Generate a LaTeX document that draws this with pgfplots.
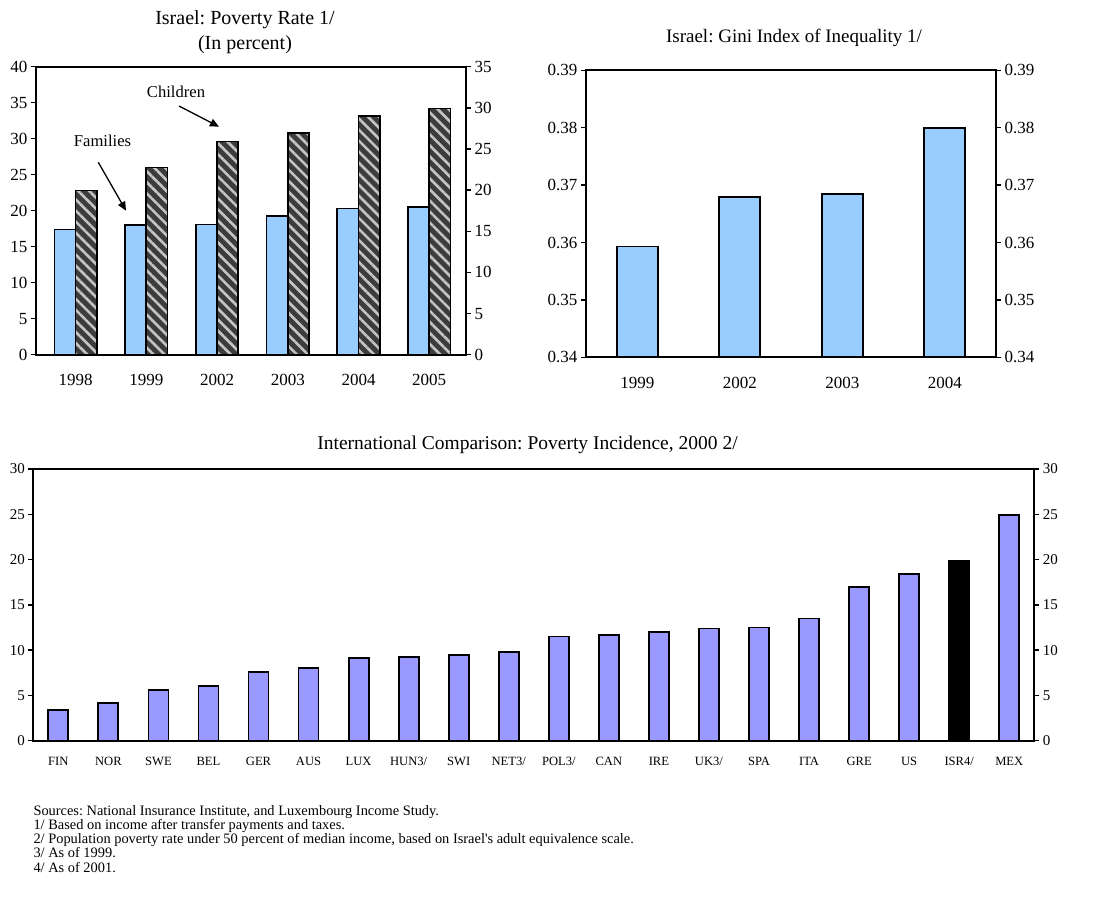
\documentclass[border=0pt]{standalone}
\usepackage{fontspec}
\setmainfont{Liberation Serif}
\usepackage{pgfplots}
\pgfplotsset{compat=1.18}
\usetikzlibrary{patterns.meta,arrows.meta}
\frenchspacing

\definecolor{famblue}{HTML}{99CCFF}
\definecolor{intlblue}{HTML}{9999FF}
\definecolor{stripebg}{HTML}{3C3C3C}
\definecolor{stripefg}{HTML}{C4C4C4}

\pgfplotsset{
  panel/.style={
    scale only axis,
    anchor=north west,
    axis line style={line width=2pt},
    tick style={line width=1.5pt, black},
    tick align=outside,
    major tick length=5pt,
    /pgf/number format/assume math mode=true,
    major x tick style={draw=none},
    xtick pos=bottom,
  },
  rightaxis/.style={
    panel,
    axis x line=none,
    axis y line*=right,
  },
}

\begin{document}
\begin{tikzpicture}
\useasboundingbox (0pt,0pt) rectangle (1107pt,-896pt);

% ---------------- Poverty rate: families and children ----------------
\begin{axis}[panel,
  at={(36pt,-66.7pt)}, width=430pt, height=288pt,
  xmin=-0.56, xmax=5.52, ymin=0, ymax=40,
  ytick={0,5,...,40}, ytick pos=left,
  xtick={0,...,5},
  xticklabels={1998,1999,2002,2003,2004,2005},
  ticklabel style={font=\fontsize{17}{20}\selectfont},
  xticklabel style={yshift=-11pt},
]
\addplot[ybar, bar width=0.3, bar shift=-0.15, fill=famblue, draw=black, line width=1.7pt]
  coordinates {(0,17.4) (1,18.0) (2,18.1) (3,19.3) (4,20.3) (5,20.5)};
% children: dark base, then light diagonal hatching on top
\addplot[ybar, bar width=0.3, bar shift=0.15, draw=none, fill=stripebg]
  coordinates {(0,22.8) (1,26.0) (2,29.6) (3,30.8) (4,33.2) (5,34.2)};
\addplot[ybar, bar width=0.3, bar shift=0.15, draw=black, line width=1.7pt,
  pattern={Lines[angle=-45,distance=7.8pt,line width=2.6pt]}, pattern color=stripefg]
  coordinates {(0,22.8) (1,26.0) (2,29.6) (3,30.8) (4,33.2) (5,34.2)};
\end{axis}
\begin{axis}[rightaxis,
  at={(36pt,-66.7pt)}, width=430pt, height=288pt,
  xmin=-0.56, xmax=5.52, ymin=0, ymax=35,
  ytick={0,5,...,35},
  ticklabel style={font=\fontsize{17}{20}\selectfont},
]
\end{axis}

\node[font=\fontsize{20}{22}\selectfont] at (245pt,-20pt) {Israel: Poverty Rate 1/};
\node[font=\fontsize{20}{22}\selectfont] at (245pt,-45pt) {(In percent)};
\node[font=\fontsize{16.6}{18}\selectfont] at (176pt,-92pt) {Children};
\node[font=\fontsize{16.6}{18}\selectfont] at (102.5pt,-140.7pt) {Families};
\draw[line width=1.3pt, -{Triangle[length=9pt,width=8pt]}] (179pt,-106pt) -- (219pt,-126.7pt);
\draw[line width=1.3pt, -{Triangle[length=9pt,width=8pt]}] (98.3pt,-162.3pt) -- (126pt,-210.7pt);

% ---------------- Gini index ----------------
\begin{axis}[panel,
  at={(586pt,-70.3pt)}, width=410pt, height=287pt,
  xmin=-0.5, xmax=3.5, ymin=0.34, ymax=0.39,
  ytick={0.34,0.35,0.36,0.37,0.38,0.39}, ytick pos=left,
  yticklabel style={/pgf/number format/.cd, fixed, fixed zerofill, precision=2},
  xtick={0,...,3},
  xticklabels={1999,2002,2003,2004},
  ticklabel style={font=\fontsize{17}{20}\selectfont},
  xticklabel style={yshift=-11pt},
]
\addplot[ybar, bar width=0.4, bar shift=0, fill=famblue, draw=black, line width=1.7pt]
  coordinates {(0,0.3593) (1,0.3679) (2,0.3685) (3,0.3800)};
\end{axis}
\begin{axis}[rightaxis,
  at={(586pt,-70.3pt)}, width=410pt, height=287pt,
  xmin=-0.5, xmax=3.5, ymin=0.34, ymax=0.39,
  ytick={0.34,0.35,0.36,0.37,0.38,0.39},
  yticklabel style={/pgf/number format/.cd, fixed, fixed zerofill, precision=2},
  ticklabel style={font=\fontsize{17}{20}\selectfont},
]
\end{axis}

\node[font=\fontsize{19}{22}\selectfont] at (794pt,-38.3pt) {Israel: Gini Index of Inequality 1/};

% ---------------- International comparison ----------------
\begin{axis}[panel,
  at={(33.3pt,-469pt)}, width=1001pt, height=271.7pt,
  axis line style={line width=2.3pt},
  xmin=-0.5, xmax=19.5, ymin=0, ymax=30,
  ytick={0,5,...,30}, ytick pos=left,
  xtick={0,...,19},
  xticklabels={FIN,NOR,SWE,BEL,GER,AUS,LUX,HUN3/,SWI,NET3/,POL3/,CAN,IRE,UK3/,SPA,ITA,GRE,US,ISR4/,MEX},
  yticklabel style={font=\fontsize{15}{17}\selectfont},
  xticklabel style={font=\fontsize{12.6}{14}\selectfont, yshift=-8pt},
]
\addplot[ybar, bar width=0.4, bar shift=0, fill=intlblue, draw=black, line width=1.8pt]
  coordinates {(0,3.4) (1,4.2) (2,5.6) (3,6.0) (4,7.6) (5,8.0) (6,9.1) (7,9.2)
               (8,9.5) (9,9.8) (10,11.5) (11,11.7) (12,12.0) (13,12.4) (14,12.5)
               (15,13.5) (16,17.0) (17,18.4) (19,24.9)};
\addplot[ybar, bar width=0.4, bar shift=0, fill=black, draw=black, line width=1.8pt]
  coordinates {(18,19.8)};
\end{axis}
\begin{axis}[rightaxis,
  at={(33.3pt,-469pt)}, width=1001pt, height=271.7pt,
  axis line style={line width=2.3pt},
  xmin=-0.5, xmax=19.5, ymin=0, ymax=30,
  ytick={0,5,...,30},
  yticklabel style={font=\fontsize{15}{17}\selectfont},
]
\end{axis}

\node[font=\fontsize{19.5}{22}\selectfont] at (527.5pt,-445pt) {International Comparison: Poverty Incidence, 2000 2/};

% ---------------- Notes ----------------
\node[anchor=north west, inner sep=0pt, align=left, font=\fontsize{14.4}{14.2}\selectfont] at (33.3pt,-805pt)
{Sources: National Insurance Institute, and Luxembourg Income Study.\\
1/ Based on income after transfer payments and taxes.\\
2/ Population poverty rate under 50 percent of median income, based on Israel\textquotesingle s adult equivalence scale.\\
3/ As of 1999.\\
4/ As of 2001.};
\end{tikzpicture}
\end{document}
